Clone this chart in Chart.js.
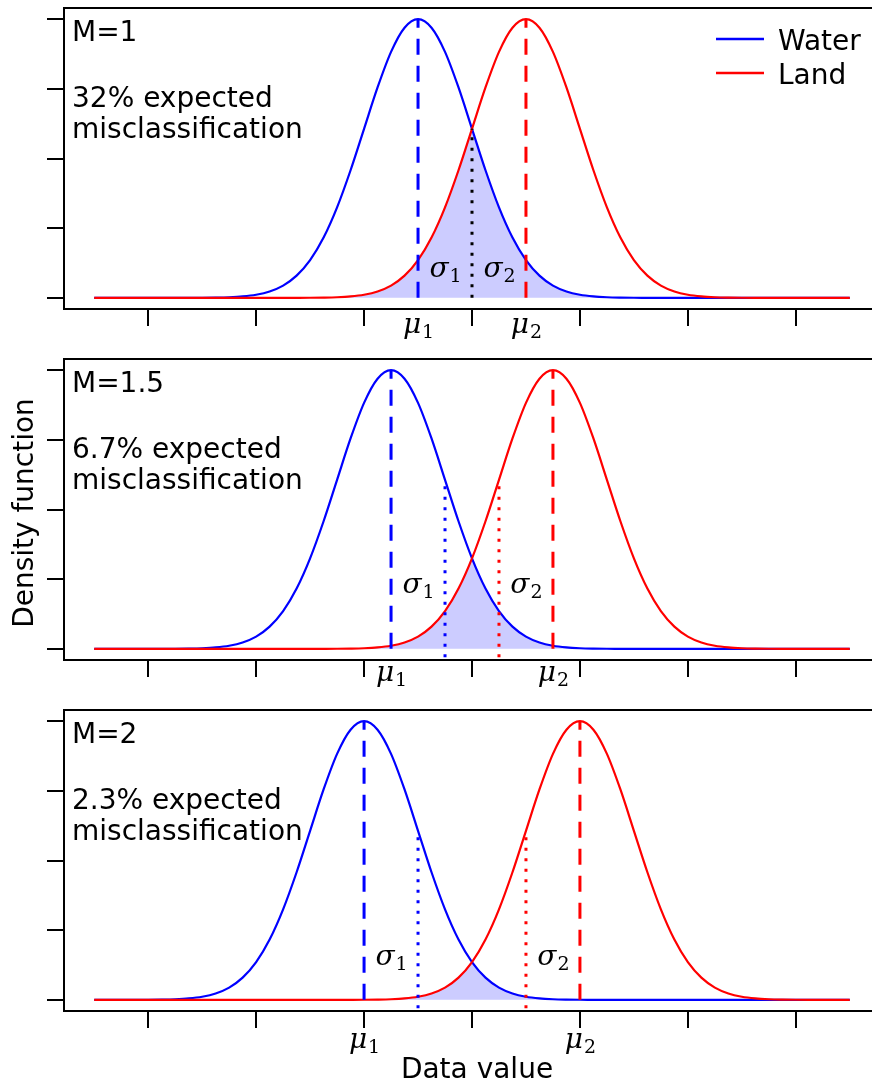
<!DOCTYPE html>
<html>
<head>
<meta charset="utf-8">
<script src="https://cdn.jsdelivr.net/npm/chart.js"></script>
<style>
html, body { margin: 0; padding: 0; overflow: hidden; background: #fff; width: 872px; height: 1084px; }
canvas { position: absolute; left: 0; }
</style>
</head>
<body>
<canvas id="p0" width="882" height="351" style="top:0px"></canvas>
<canvas id="p1" width="882" height="351" style="top:351px"></canvas>
<canvas id="p2" width="882" height="382" style="top:702px"></canvas>
<script>
// data value grid (in sigma units, step 0.25) and density (peak = 1)
var xGrid = [-7, -6.75, -6.5, -6.25, -6, -5.75, -5.5, -5.25, -5, -4.75, -4.5, -4.25, -4, -3.75, -3.5, -3.25,
             -3, -2.75, -2.5, -2.25, -2, -1.75, -1.5, -1.25, -1, -0.75, -0.5, -0.25, 0,
             0.25, 0.5, 0.75, 1, 1.25, 1.5, 1.75, 2, 2.25, 2.5, 2.75, 3, 3.25, 3.5, 3.75,
             4, 4.25, 4.5, 4.75, 5, 5.25, 5.5, 5.75, 6, 6.25, 6.5, 6.75, 7];

var water1 = [0, 0, 0, 0, 0, 0, 0,
    0.0001, 0.0003, 0.0009, 0.0022, 0.0051, 0.0111, 0.0228, 0.0439, 0.0796, 0.1353, 0.2163, 0.3247, 0.4578,
    0.6065, 0.7548, 0.8825, 0.9692, 1, 0.9692, 0.8825, 0.7548, 0.6065, 0.4578, 0.3247, 0.2163, 0.1353,
    0.0796, 0.0439, 0.0228, 0.0111, 0.0051, 0.0022, 0.0009, 0.0003, 0.0001,
    0, 0, 0, 0, 0, 0, 0, 0, 0, 0, 0, 0, 0, 0, 0];
var land1 = [0, 0, 0, 0, 0, 0, 0, 0, 0, 0, 0, 0, 0, 0, 0,
    0.0001, 0.0003, 0.0009, 0.0022, 0.0051, 0.0111, 0.0228, 0.0439, 0.0796, 0.1353, 0.2163, 0.3247, 0.4578,
    0.6065, 0.7548, 0.8825, 0.9692, 1, 0.9692, 0.8825, 0.7548, 0.6065, 0.4578, 0.3247, 0.2163, 0.1353,
    0.0796, 0.0439, 0.0228, 0.0111, 0.0051, 0.0022, 0.0009, 0.0003, 0.0001,
    0, 0, 0, 0, 0, 0, 0];

var water2 = [0, 0, 0, 0, 0,
    0.0001, 0.0003, 0.0009, 0.0022, 0.0051, 0.0111, 0.0228, 0.0439, 0.0796, 0.1353, 0.2163, 0.3247, 0.4578,
    0.6065, 0.7548, 0.8825, 0.9692, 1, 0.9692, 0.8825, 0.7548, 0.6065, 0.4578, 0.3247, 0.2163, 0.1353,
    0.0796, 0.0439, 0.0228, 0.0111, 0.0051, 0.0022, 0.0009, 0.0003, 0.0001,
    0, 0, 0, 0, 0, 0, 0, 0, 0, 0, 0, 0, 0, 0, 0, 0, 0];
var land2 = [0, 0, 0, 0, 0, 0, 0, 0, 0, 0, 0, 0, 0, 0, 0, 0, 0,
    0.0001, 0.0003, 0.0009, 0.0022, 0.0051, 0.0111, 0.0228, 0.0439, 0.0796, 0.1353, 0.2163, 0.3247, 0.4578,
    0.6065, 0.7548, 0.8825, 0.9692, 1, 0.9692, 0.8825, 0.7548, 0.6065, 0.4578, 0.3247, 0.2163, 0.1353,
    0.0796, 0.0439, 0.0228, 0.0111, 0.0051, 0.0022, 0.0009, 0.0003, 0.0001,
    0, 0, 0, 0, 0];

var water3 = [0, 0, 0,
    0.0001, 0.0003, 0.0009, 0.0022, 0.0051, 0.0111, 0.0228, 0.0439, 0.0796, 0.1353, 0.2163, 0.3247, 0.4578,
    0.6065, 0.7548, 0.8825, 0.9692, 1, 0.9692, 0.8825, 0.7548, 0.6065, 0.4578, 0.3247, 0.2163, 0.1353,
    0.0796, 0.0439, 0.0228, 0.0111, 0.0051, 0.0022, 0.0009, 0.0003, 0.0001,
    0, 0, 0, 0, 0, 0, 0, 0, 0, 0, 0, 0, 0, 0, 0, 0, 0, 0, 0];
var land3 = [0, 0, 0, 0, 0, 0, 0, 0, 0, 0, 0, 0, 0, 0, 0, 0, 0, 0, 0,
    0.0001, 0.0003, 0.0009, 0.0022, 0.0051, 0.0111, 0.0228, 0.0439, 0.0796, 0.1353, 0.2163, 0.3247, 0.4578,
    0.6065, 0.7548, 0.8825, 0.9692, 1, 0.9692, 0.8825, 0.7548, 0.6065, 0.4578, 0.3247, 0.2163, 0.1353,
    0.0796, 0.0439, 0.0228, 0.0111, 0.0051, 0.0022, 0.0009, 0.0003, 0.0001,
    0, 0, 0];

var waterMeans = [-1, -1.5, -2];
var landMeans  = [1, 1.5, 2];
var waterCut   = [0, -0.5, -1];   // dotted line, one sigma from the water mean
var landCut    = [0, 0.5, 1];
var cutHeight  = 0.6065;
var cutBottom  = [0, -0.03, -0.03];
var peak = 1;

var mLabels    = ['M=1', 'M=1.5', 'M=2'];
var missLabels = ['32% expected', '6.7% expected', '2.3% expected'];
var xTicks = [-6, -4, -2, 0, 2, 4, 6];
var yTicks = [0, 0.25, 0.5, 0.75, 1];

var waterSets = [water1, water2, water3];
var landSets  = [land1, land2, land3];

var BLUE = '#0000ff', RED = '#ff0000', SHADE = '#ccccff';
var sans = '"DejaVu Sans", sans-serif';
var serif = '"DejaVu Serif", serif';

// little per-panel text placement
var sigmaY = [0.075, 0.2, 0.125];
var muDrop = [24, 21, 37];

function symbol(ctx, main, sub, cx, base) {
    ctx.font = 'italic 28px ' + serif;
    var w1 = ctx.measureText(main).width;
    ctx.font = '19px ' + serif;
    var w2 = ctx.measureText(sub).width;
    var x0 = cx - (w1 + w2) / 2;
    ctx.font = 'italic 28px ' + serif;
    ctx.fillText(main, x0, base);
    ctx.font = '19px ' + serif;
    ctx.fillText(sub, x0 + w1 + 1, base + 5);
}

function vline(x, y0, y1, colour, dash) {
    return {
        data: [{x: x, y: y0}, {x: x, y: y1}],
        borderColor: colour,
        borderWidth: 3,
        borderDash: dash,
        pointRadius: 0,
        fill: false
    };
}

function makePanel(i) {
    var canvas = document.getElementById('p' + i);
    var axisH = canvas.height - 8 - 301;

    var water = {
        data: xGrid.map(function (x, k) { return {x: x, y: waterSets[i][k]}; }),
        borderColor: BLUE, borderWidth: 2.2, pointRadius: 0,
        cubicInterpolationMode: 'monotone',
        fill: 'origin', backgroundColor: 'rgba(0,0,0,0)',
        segment: { backgroundColor: function (c) { return c.p0.parsed.x >= 0 ? SHADE : undefined; } }
    };
    var land = {
        data: xGrid.map(function (x, k) { return {x: x, y: landSets[i][k]}; }),
        borderColor: RED, borderWidth: 2.2, pointRadius: 0,
        cubicInterpolationMode: 'monotone',
        fill: 'origin', backgroundColor: 'rgba(0,0,0,0)',
        segment: { backgroundColor: function (c) { return c.p1.parsed.x <= 0 ? SHADE : undefined; } }
    };

    var dash = [16, 11], dot = [3, 7.5];
    var sets = [
        vline(waterMeans[i], 0, peak, BLUE, dash),
        vline(landMeans[i], 0, peak, RED, dash)
    ];
    if (waterCut[i] === landCut[i]) {
        sets.push(vline(waterCut[i], cutBottom[i], cutHeight, '#000', dot));
    } else {
        sets.push(vline(waterCut[i], cutBottom[i], cutHeight, BLUE, dot));
        sets.push(vline(landCut[i], cutBottom[i], cutHeight, RED, dot));
    }
    sets.push(land, water);

    var decor = {
        id: 'decor',
        afterDraw: function (chart) {
            var ctx = chart.ctx, a = chart.chartArea;
            var xs = chart.scales.x, ys = chart.scales.y;
            ctx.save();
            ctx.strokeStyle = '#000';
            ctx.lineWidth = 2;
            ctx.strokeRect(a.left, a.top, a.right - a.left, a.bottom - a.top);

            ctx.fillStyle = '#000';
            ctx.textAlign = 'left';
            ctx.textBaseline = 'alphabetic';
            ctx.font = '28px ' + sans;
            ctx.fillText(mLabels[i], 72, a.top + 33);
            ctx.fillText(missLabels[i], 72, a.top + 99);
            ctx.fillText('misclassification', 72, a.top + 130);

            var sy = ys.getPixelForValue(sigmaY[i]);
            symbol(ctx, '\u03c3', '1', xs.getPixelForValue((waterMeans[i] + waterCut[i]) / 2), sy);
            symbol(ctx, '\u03c3', '2', xs.getPixelForValue((landMeans[i] + landCut[i]) / 2), sy);
            symbol(ctx, '\u03bc', '1', xs.getPixelForValue(waterMeans[i]), a.bottom + muDrop[i]);
            symbol(ctx, '\u03bc', '2', xs.getPixelForValue(landMeans[i]), a.bottom + muDrop[i]);

            if (i === 0) {
                ctx.lineWidth = 2.5;
                ctx.strokeStyle = BLUE;
                ctx.beginPath(); ctx.moveTo(716, 39); ctx.lineTo(764, 39); ctx.stroke();
                ctx.strokeStyle = RED;
                ctx.beginPath(); ctx.moveTo(716, 73); ctx.lineTo(764, 73); ctx.stroke();
                ctx.font = '28px ' + sans;
                ctx.fillText('Water', 778, 50);
                ctx.fillText('Land', 778, 84);
            }
            if (i === 1) {
                ctx.save();
                ctx.translate(33, 162);
                ctx.rotate(-Math.PI / 2);
                ctx.textAlign = 'center';
                ctx.font = '28px ' + sans;
                ctx.fillText('Density function', 0, 0);
                ctx.restore();
            }
            if (i === 2) {
                ctx.textAlign = 'center';
                ctx.font = '28px ' + sans;
                ctx.fillText('Data value', 477, 376);
            }
            ctx.restore();
        }
    };

    var tickGrid = { drawOnChartArea: false, drawTicks: true, tickLength: 17, color: '#000', lineWidth: 2 };

    return new Chart(canvas.getContext('2d'), {
        type: 'line',
        data: { datasets: sets },
        options: {
            responsive: false,
            animation: false,
            events: [],
            layout: { padding: { top: 8, right: 2, left: 0, bottom: 0 } },
            plugins: {
                legend: { display: false },
                tooltip: { enabled: false },
                filler: { drawTime: 'beforeDatasetsDraw' }
            },
            scales: {
                x: {
                    type: 'linear', min: -7.56, max: 7.56,
                    afterBuildTicks: function (s) { s.ticks = xTicks.map(function (v) { return {value: v}; }); },
                    afterFit: function (s) { s.height = axisH; },
                    ticks: { display: false },
                    grid: tickGrid,
                    border: { display: false }
                },
                y: {
                    type: 'linear', min: -0.04, max: 1.04,
                    afterBuildTicks: function (s) { s.ticks = yTicks.map(function (v) { return {value: v}; }); },
                    afterFit: function (s) { s.width = 64; },
                    ticks: { display: false },
                    grid: tickGrid,
                    border: { display: false }
                }
            }
        },
        plugins: [decor]
    });
}

makePanel(0);
makePanel(1);
makePanel(2);
</script>
</body>
</html>
